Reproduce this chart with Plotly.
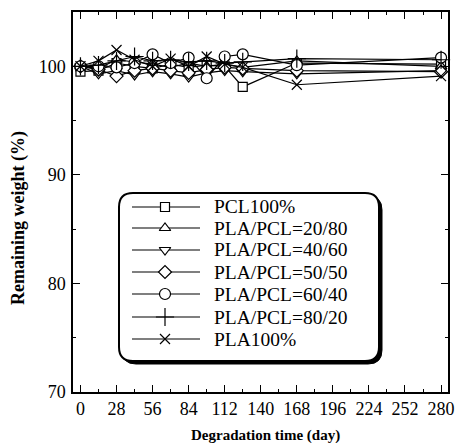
import plotly.graph_objects as go

days = [0, 14, 28, 42, 56, 70, 84, 98, 112, 126, 168, 280]

pcl100 = [99.5, 99.6, 100.3, 100.0, 99.8, 100.2, 99.9, 100.1, 100.0, 98.1, 100.3, 100.2]
pla_pcl_20_80 = [100.0, 99.8, 100.6, 100.4, 100.2, 99.9, 100.3, 100.0, 100.2, 99.9, 100.5, 100.0]
pla_pcl_40_60 = [100.0, 99.3, 99.6, 99.2, 99.5, 99.3, 99.0, 99.4, 99.6, 99.5, 99.3, 99.6]
pla_pcl_50_50 = [100.0, 99.7, 99.1, 99.6, 99.8, 99.6, 99.4, 99.7, 99.9, 99.8, 99.6, 99.5]
pla_pcl_60_40 = [100.0, 100.0, 99.9, 100.3, 101.1, 100.3, 100.8, 98.9, 100.9, 101.1, 100.1, 100.8]
pla_pcl_80_20 = [100.0, 100.1, 100.5, 100.9, 100.5, 100.6, 100.4, 100.5, 100.3, 100.4, 100.7, 100.6]
pla100 = [100.0, 100.5, 101.5, 100.6, 100.0, 100.7, 100.0, 100.9, 100.2, 99.9, 98.3, 99.1]

series_names = ["PCL100%", "PLA/PCL=20/80", "PLA/PCL=40/60", "PLA/PCL=50/50",
                "PLA/PCL=60/40", "PLA/PCL=80/20", "PLA100%"]
series_values = [pcl100, pla_pcl_20_80, pla_pcl_40_60, pla_pcl_50_50,
                 pla_pcl_60_40, pla_pcl_80_20, pla100]
symbols = ["square", "triangle-up", "triangle-down", "diamond",
           "circle", "cross-thin", "x-thin"]
sizes = [9, 10, 10, 10, 11, 13, 10]

x_ticks = [0, 28, 56, 84, 112, 140, 168, 196, 224, 252, 280]
y_ticks = [70, 80, 90, 100]

FONT = "Liberation Serif"

# plot-area pixel geometry
PL, PR, PT, PB = 73, 448, 12, 392
W, H = 455, 443


def u(px):
    return (px - PL) / (PR - PL)


def v(py):
    return (PB - py) / (PB - PT)


fig = go.Figure()
for name, vals, sym, sz in zip(series_names, series_values, symbols, sizes):
    fig.add_trace(go.Scatter(
        x=days, y=vals, name=name, mode="lines+markers", showlegend=False,
        line=dict(color="black", width=1.2),
        marker=dict(symbol=sym, size=sz, color="white",
                    line=dict(color="black", width=1.2)),
        cliponaxis=False,
    ))


def rounded(x0, x1, y0, y1, rpx):
    rx = rpx / (PR - PL)
    ry = rpx / (PB - PT)
    return (f"M{x0+rx},{y1} L{x1-rx},{y1} Q{x1},{y1} {x1},{y1-ry} L{x1},{y0+ry} "
            f"Q{x1},{y0} {x1-rx},{y0} L{x0+rx},{y0} Q{x0},{y0} {x0},{y0+ry} "
            f"L{x0},{y1-ry} Q{x0},{y1} {x0+rx},{y1} Z")


# legend box: shadow then white box (below the traces so the keys show)
bx0, bx1, by0, by1 = 119, 379, 193, 361
fig.add_shape(type="path", path=rounded(u(bx0 + 3), u(bx1 + 3), v(by1 + 3), v(by0 + 3), 14),
              xref="paper", yref="paper", line=dict(color="black", width=1),
              fillcolor="black", layer="below")
fig.add_shape(type="path", path=rounded(u(bx0), u(bx1), v(by1), v(by0), 14),
              xref="paper", yref="paper", line=dict(color="black", width=2),
              fillcolor="white", layer="below")

# legend keys on an overlay axis spanning the plot area in [0, 1]
row_px = [207, 228, 250, 272, 294, 317, 339]
for name, sym, sz, rp in zip(series_names, symbols, sizes, row_px):
    fig.add_trace(go.Scatter(
        x=[u(132), u(165), u(200)], y=[v(rp)] * 3,
        xaxis="x2", yaxis="y2", mode="lines", showlegend=False,
        line=dict(color="black", width=1.2), hoverinfo="skip",
    ))
    fig.add_trace(go.Scatter(
        x=[u(165)], y=[v(rp)], xaxis="x2", yaxis="y2", mode="markers",
        showlegend=False, hoverinfo="skip",
        marker=dict(symbol=sym, size=sz, color="white",
                    line=dict(color="black", width=1.2)),
    ))
    fig.add_annotation(x=u(212), y=v(rp), xref="paper", yref="paper",
                       text=name, showarrow=False, xanchor="left", yanchor="middle",
                       font=dict(family=FONT, size=19.5, color="black"))

# axis titles
fig.add_annotation(x=u(265), y=v(435), xref="paper", yref="paper",
                   text="<b>Degradation time (day)</b>", showarrow=False,
                   xanchor="center", yanchor="middle",
                   font=dict(family=FONT, size=15, color="black"))
fig.add_annotation(x=u(18), y=v(218), xref="paper", yref="paper",
                   text="<b>Remaining weight (%)</b>", showarrow=False, textangle=-90,
                   xanchor="center", yanchor="middle",
                   font=dict(family=FONT, size=18, color="black"))

fig.update_layout(
    width=W, height=H,
    margin=dict(l=PL, r=W - PR, t=PT, b=H - PB, autoexpand=False),
    paper_bgcolor="white", plot_bgcolor="white",
    font=dict(family=FONT, color="black", size=18),
    showlegend=False,
    xaxis=dict(range=[-5.8, 285.4], tickmode="array", tickvals=x_ticks,
               ticktext=[str(t) for t in x_ticks], automargin=False,
               ticklabeloverflow="allow",
               ticks="inside", ticklen=7, tickwidth=1, tickcolor="black",
               minor=dict(dtick=14, ticks="inside", ticklen=3, tickcolor="black"),
               showline=True, linecolor="black", linewidth=1.5, mirror="ticks",
               showgrid=False, zeroline=False,
               tickfont=dict(family=FONT, size=18)),
    yaxis=dict(range=[70, 105], tickmode="array", tickvals=y_ticks,
               ticktext=[str(t) for t in y_ticks], automargin=False,
               ticks="inside", ticklen=7, tickwidth=1, tickcolor="black",
               minor=dict(dtick=5, ticks="inside", ticklen=3, tickcolor="black"),
               showline=True, linecolor="black", linewidth=1.5, mirror="ticks",
               showgrid=False, zeroline=False, ticklabelstandoff=2,
               tickfont=dict(family=FONT, size=18)),
    xaxis2=dict(overlaying="x", range=[0, 1], visible=False, fixedrange=True),
    yaxis2=dict(overlaying="y", range=[0, 1], visible=False, fixedrange=True),
)

fig.write_html("out.html", config={"displayModeBar": False},
               post_script="document.body.style.margin='0';document.body.style.overflow='hidden';")
